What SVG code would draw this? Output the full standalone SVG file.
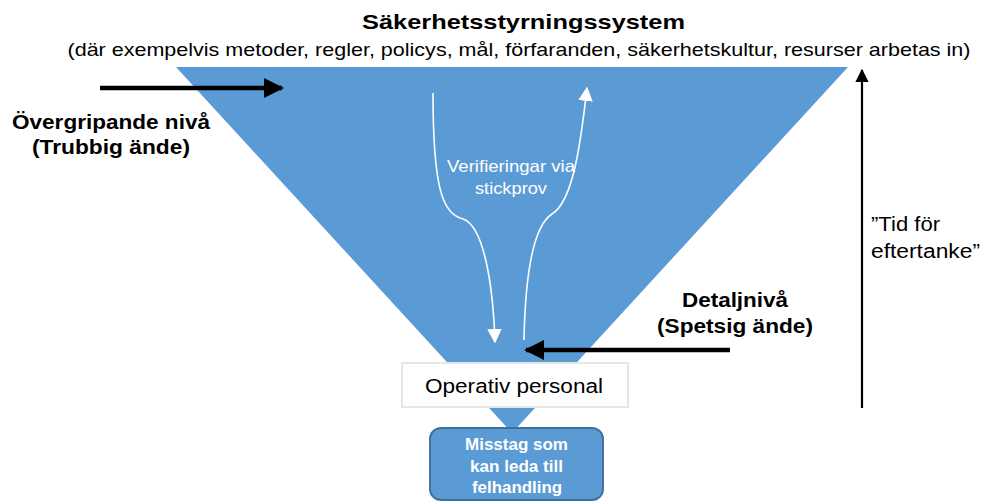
<svg xmlns="http://www.w3.org/2000/svg" width="983" height="501" viewBox="0 0 983 501">
<style>
text{font-family:"Liberation Sans",Arial,sans-serif;fill:#000;text-anchor:middle}
.b{font-weight:bold;font-size:21px}
.w{fill:#fff}
</style>
<defs>
<marker id="ab" viewBox="0 0 10 10" refX="9" refY="5" markerWidth="4.5" markerHeight="4.5" markerUnits="strokeWidth" orient="auto"><path d="M0,0L10,5L0,10z" fill="#000"/></marker>
<marker id="av" viewBox="0 0 10 10" refX="9" refY="5" markerWidth="7" markerHeight="6" markerUnits="strokeWidth" orient="auto"><path d="M0,0L10,5L0,10z" fill="#000"/></marker>
<marker id="aw" viewBox="0 0 10 10" refX="9" refY="5" markerWidth="9" markerHeight="9" markerUnits="strokeWidth" orient="auto"><path d="M0,0L10,5L0,10z" fill="#fff"/></marker>
</defs>
<rect width="983" height="501" fill="#fff"/>
<g id="triangle"><polygon points="176,67 848,67 512,433" fill="#5b9bd5"/></g>
<g id="title">
<text x="523.5" y="28.5" class="b" font-size="22" textLength="323" lengthAdjust="spacingAndGlyphs">Säkerhetsstyrningssystem</text>
<text x="519" y="56" font-size="19" textLength="903" lengthAdjust="spacingAndGlyphs">(där exempelvis metoder, regler, policys, mål, förfaranden, säkerhetskultur, resurser arbetas in)</text>
</g>
<g id="overgripande">
<text x="111" y="129" class="b" textLength="198" lengthAdjust="spacingAndGlyphs">Övergripande nivå</text>
<text x="111" y="154" class="b" textLength="158" lengthAdjust="spacingAndGlyphs">(Trubbig ände)</text>
</g>
<g id="detalj">
<text x="735" y="307" class="b" textLength="106" lengthAdjust="spacingAndGlyphs">Detaljnivå</text>
<text x="735" y="333" class="b" textLength="156" lengthAdjust="spacingAndGlyphs">(Spetsig ände)</text>
</g>
<g id="tid">
<text x="905.5" y="231" font-size="19.5" textLength="69" lengthAdjust="spacingAndGlyphs">”Tid för</text>
<text x="925.5" y="258" font-size="19.5" textLength="109" lengthAdjust="spacingAndGlyphs">eftertanke”</text>
</g>
<g id="verifiering">
<text x="511" y="172" font-size="16.5" class="w" textLength="128" lengthAdjust="spacingAndGlyphs">Verifieringar via</text>
<text x="511" y="194" font-size="16.5" class="w" textLength="72" lengthAdjust="spacingAndGlyphs">stickprov</text>
</g>
<g id="operativ">
<rect x="402" y="363" width="226" height="44" fill="#fff" stroke="#e6e6e6" stroke-width="2"/>
<text x="514" y="393" font-size="20" textLength="178" lengthAdjust="spacingAndGlyphs">Operativ personal</text>
</g>
<g id="misstag">
<rect x="430" y="428" width="173" height="72" rx="11" fill="#5b9bd5" stroke="#41719c" stroke-width="2"/>
<text x="516.5" y="450" font-size="16" font-weight="bold" class="w" textLength="103" lengthAdjust="spacingAndGlyphs">Misstag som</text>
<text x="516.5" y="472" font-size="16" font-weight="bold" class="w" textLength="93" lengthAdjust="spacingAndGlyphs">kan leda till</text>
<text x="517" y="493" font-size="16" font-weight="bold" class="w" textLength="90" lengthAdjust="spacingAndGlyphs">felhandling</text>
</g>
<g id="connectors" fill="none">
<line x1="100" y1="88" x2="282" y2="88" stroke="#000" stroke-width="4.5" marker-end="url(#ab)"/>
<line x1="730" y1="350" x2="526" y2="350" stroke="#000" stroke-width="4.5" marker-end="url(#ab)"/>
<line x1="862" y1="408" x2="862" y2="70" stroke="#000" stroke-width="2.2" marker-end="url(#av)"/>
<path d="M433,93 C433,190 443,214 463,219 C484,226 493,285 495,342" stroke="#fff" stroke-width="1.6" marker-end="url(#aw)"/>
<path d="M524,340 C525,290 530,228 552,214 C572,202 580,150 587,88" stroke="#fff" stroke-width="1.6" marker-end="url(#aw)"/>
</g>
</svg>
